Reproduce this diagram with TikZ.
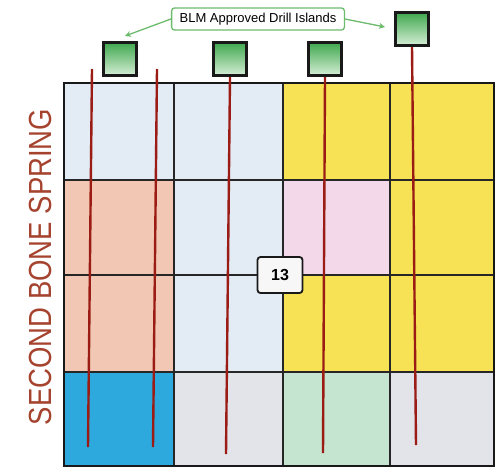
\documentclass[tikz,border=0pt]{standalone}
\usepackage{fontspec}
\setmainfont{Liberation Sans}
\usetikzlibrary{arrows.meta}
\definecolor{paleblue}{HTML}{E3EBF5}
\definecolor{salmon}{HTML}{F2C8B4}
\definecolor{lemon}{HTML}{F7E256}
\definecolor{lilac}{HTML}{F3D8EA}
\definecolor{skyblue}{HTML}{2EA9DE}
\definecolor{palegrey}{HTML}{E2E4EA}
\definecolor{mint}{HTML}{C5E5D0}
\definecolor{wellred}{HTML}{9B1C14}
\definecolor{springred}{HTML}{A5432F}
\definecolor{calloutgreen}{HTML}{6DBB6D}
\definecolor{padgreen}{HTML}{3FA84E}
\definecolor{padlight}{HTML}{D6EED6}
\tikzset{
 gridline/.style={draw=black!85,line width=1.6pt},
 border/.style={draw=black!90,line width=2.6pt},
 well/.style={draw=wellred,line width=2.4pt},
 island/.style={rectangle,draw=black!90,line width=3pt,minimum size=33pt,inner sep=0,top color=padgreen,bottom color=padlight},
 callout/.style={rectangle,rounded corners=3pt,draw=calloutgreen,line width=1.3pt,fill=white,inner xsep=8pt,inner ysep=5pt,font=\fontsize{13}{15}\selectfont},
 pointer/.style={draw=calloutgreen,line width=1.3pt,-{Stealth[length=6pt,width=6pt]}},
 tag/.style={rectangle,rounded corners=3pt,draw=black!90,line width=1.8pt,fill=black!3,minimum width=45pt,minimum height=36pt,font=\fontsize{16}{18}\selectfont\bfseries}
}
\begin{document}
\begin{tikzpicture}[x=1pt,y=-1pt]
\path[use as bounding box] (0,0) rectangle (497,474);
% sections
\fill[paleblue] (64,83) rectangle (174,180);
\fill[paleblue] (174,83) rectangle (283,372);
\fill[lemon] (283,83) rectangle (494,372);
\fill[salmon] (64,180) rectangle (174,372);
\fill[lilac] (283,180) rectangle (390,275);
\fill[skyblue] (64,372) rectangle (174,466);
\fill[palegrey] (174,372) rectangle (283,466);
\fill[mint] (283,372) rectangle (390,466);
\fill[palegrey] (390,372) rectangle (494,466);
% grid
\draw[gridline] (174,83) -- (174,466);
\draw[gridline] (283,83) -- (283,466);
\draw[gridline] (390,83) -- (390,466);
\draw[gridline] (64,180) -- (494,180);
\draw[gridline] (64,275) -- (494,275);
\draw[gridline] (64,372) -- (494,372);
\draw[border] (64,83) rectangle (494,466);
\node[rotate=90,text=springred,font=\fontsize{32}{36}\selectfont] (zone) at (40,267) {\scalebox{0.86}[1]{SECOND BONE SPRING}};
% drill islands
\node[island] (isl1) at (120,59) {};
\node[island] (isl2) at (230,59) {};
\node[island] (isl3) at (325,59) {};
\node[island] (isl4) at (412,29) {};
% wells
\coordinate (w1top) at (92,69);
\coordinate (w1end) at (88,447);
\coordinate (w2top) at (157,69);
\coordinate (w2end) at (153,447);
\coordinate (w3end) at (226,454);
\coordinate (w4end) at (323,453);
\coordinate (w5end) at (416,445);
\draw[well] (w1top) -- (w1end);
\draw[well] (w2top) -- (w2end);
\draw[well] (isl2.south) -- (w3end);
\draw[well] (isl3.south) -- (w4end);
\draw[well] (isl4.south) -- (w5end);
\node[island] at (isl2) {};
\node[island] at (isl3) {};
\node[island] at (isl4) {};
% callout
\node[callout] (blm) at (258,19) {BLM Approved Drill Islands};
\coordinate (tipleft) at (125,36);
\coordinate (tipright) at (385,27);
\draw[pointer] (blm.west) -- (tipleft);
\draw[pointer] (blm.east) -- (tipright);
\node[tag] (sec) at (280,275) {13};
\end{tikzpicture}
\end{document}
